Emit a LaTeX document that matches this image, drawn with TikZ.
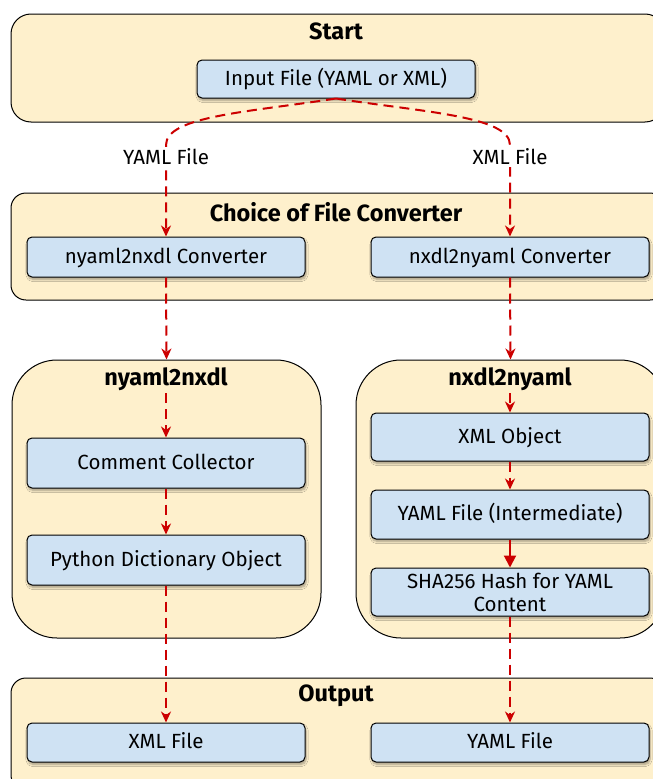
\documentclass[tikz,border=0pt]{standalone}
\usepackage{fontspec}
\setmainfont{Fira Sans}
\usetikzlibrary{arrows.meta,shadows.blur}
\definecolor{clfill}{HTML}{FEF0CC}
\definecolor{ndfill}{HTML}{CFE2F3}
\definecolor{arr}{HTML}{CC0000}
\begin{document}
\begin{tikzpicture}[x=1pt,y=-1pt,
 cluster/.style={draw=black, line width=1pt, fill=clfill, inner sep=0pt},
 proc/.style={draw=black, line width=1pt, fill=ndfill, rounded corners=5pt, minimum width=278pt, inner sep=1pt, align=center,
   font=\fontsize{20.5}{23}\selectfont,
   blur shadow={shadow blur steps=6, shadow xshift=1pt, shadow yshift=-2.5pt, shadow opacity=35}},
 ptext/.style={text height=14pt, text depth=2pt},
 ttl/.style={font=\fontsize{23.5}{26}\selectfont\bfseries, inner sep=0pt},
 lbl/.style={font=\fontsize{20.5}{23}\selectfont, fill=white, inner sep=2pt},
 flow/.style={draw=arr, line width=2pt, dash pattern=on 10pt off 6pt, -{Stealth[inset=3.5pt,length=11pt,width=10pt]}},
 solidflow/.style={draw=arr, line width=2pt, -{Triangle[length=12pt,width=12pt]}},
]
\useasboundingbox (0,0) rectangle (653,779);
\clip (0,0) rectangle (653,779);
% clusters
\node[cluster, rounded corners=20pt, minimum width=654pt, minimum height=108pt] (start) at (338,68) {};
\node[cluster, rounded corners=15pt, minimum width=654pt, minimum height=107pt] (choice) at (338,246.5) {};
\node[cluster, rounded corners=45pt, minimum width=309pt, minimum height=278pt] (lclu) at (166.5,499) {};
\node[cluster, rounded corners=45pt, minimum width=309pt, minimum height=278pt] (rclu) at (510.5,499) {};
\node[cluster, rounded corners=15pt, minimum width=654pt, minimum height=112pt] (output) at (338,734) {};
% titles
\node[ttl] (tstart) at (336,31) {Start};
\node[ttl] (tchoice) at (336,212) {Choice of File Converter};
\node[ttl] (tl) at (166,379) {nyaml2nxdl};
\node[ttl] (tr) at (510,379) {nxdl2nyaml};
\node[ttl] (tout) at (336,696) {Output};
% process nodes
\node[proc, ptext, minimum height=38pt] (in) at (336,79) {Input File (YAML or XML)};
\node[proc, ptext, minimum height=40pt] (c1) at (166,257) {nyaml2nxdl Converter};
\node[proc, ptext, minimum height=40pt] (c2) at (510,257) {nxdl2nyaml Converter};
\node[proc, ptext, minimum height=50pt] (cc) at (166,463) {Comment Collector};
\node[proc, ptext, minimum height=50pt] (pd) at (166,560) {Python Dictionary Object};
\node[proc, ptext, minimum height=48pt] (xo) at (510,437) {XML Object};
\node[proc, ptext, minimum height=49pt] (yi) at (510,514.5) {YAML File (Intermediate)};
\node[proc, minimum height=48pt] (sh) at (510,592) {SHA256 Hash for YAML\\Content};
\node[proc, ptext, minimum height=39pt] (ox) at (166,742.5) {XML File};
\node[proc, ptext, minimum height=39pt] (oy) at (510,742.5) {YAML File};
% connectors
\coordinate (lin) at (166,393);
\coordinate (rin) at (510,393);
\draw[flow] (in.south) .. controls (250,112) and (166,116) .. (166,145) -- (166,157) node[lbl] {YAML File} -- (c1.north);
\draw[flow] (in.south) .. controls (422,112) and (510,116) .. (510,145) -- (510,157) node[lbl] {XML File} -- (c2.north);
\draw[flow] (c1.south) -- (lclu.north);
\draw[flow] (c2.south) -- (rclu.north);
\draw[flow] (lin) -- (cc.north);
\draw[flow] (cc.south) -- (pd.north);
\draw[flow] (rin) -- (xo.north);
\draw[flow] (xo.south) -- (yi.north);
\draw[solidflow] (yi.south) -- (sh.north);
\draw[flow] (pd.south) -- (ox.north);
\draw[flow] (sh.south) -- (oy.north);
\end{tikzpicture}
\end{document}
